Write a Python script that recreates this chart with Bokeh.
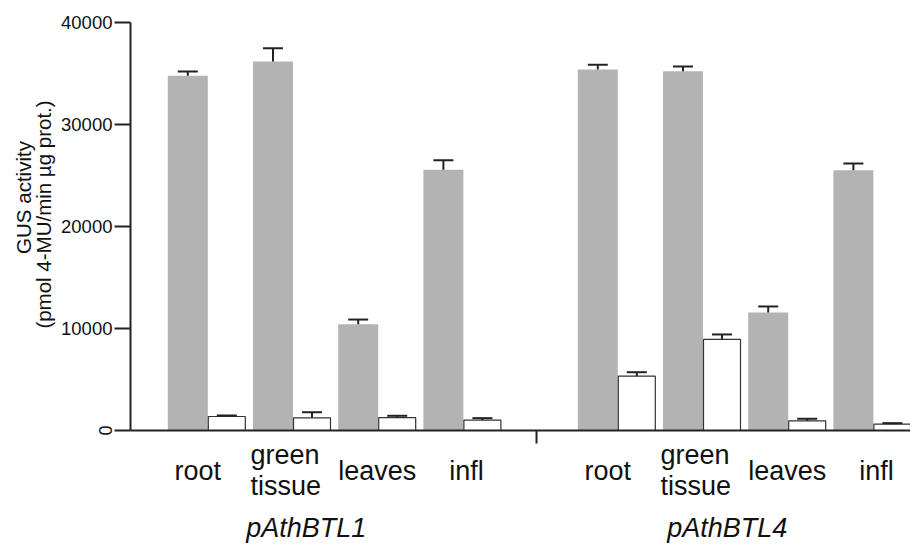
import math
from bokeh.plotting import figure
from bokeh.models import Range1d, FixedTicker, Label
from bokeh.embed import file_html
from bokeh.resources import INLINE

# ---- data ----
tissues = ["root", "green tissue", "leaves", "infl"]
promoters = ["pAthBTL1", "pAthBTL4"]
y_ticks = [0, 10000, 20000, 30000, 40000]

gray_btl1 = [34750, 36150, 10410, 25540]
gray_btl1_err = [420, 1300, 460, 940]
white_btl1 = [1370, 1240, 1270, 1010]
white_btl1_err = [100, 550, 170, 200]

gray_btl4 = [35370, 35200, 11560, 25500]
gray_btl4_err = [460, 460, 590, 650]
white_btl4 = [5320, 8920, 950, 620]
white_btl4_err = [390, 490, 200, 100]

y_title_1 = "GUS activity"
y_title_2 = "(pmol 4-MU/min \u00b5g prot.)"

# ---- layout constants ----
FONT = "Liberation Sans"
TXT = "#111111"
GRAY = "#b3b3b3"
W, H = 910, 547
AXIS_PX_X = 130          # page x of the y axis
AXIS_PX_Y0 = 430         # page y of value 0
AXIS_PX_Y40 = 21.7       # page y of value 40000
UPP = 40000 / (AXIS_PX_Y0 - AXIS_PX_Y40)   # value units per pixel

first_pair = 77.3
pair_step = 85.2
group_step = 410.0
gray_w = 40.0
white_w = 38.0
cap_half = 10.0
separator_x = 405.5
label_dx = [-10, -6.5, -1, 3]
group_label_dx = [98.5, 109.4]
SHIFT = 8.5  # text placement correction

def y_at(page_y):
    return (AXIS_PX_Y0 - page_y) * UPP

p = figure(width=W, height=H,
           x_range=Range1d(-AXIS_PX_X, W - AXIS_PX_X),
           y_range=Range1d(y_at(H), y_at(0)),
           output_backend="svg", toolbar_location=None, min_border=0)
p.outline_line_color = None
p.xgrid.visible = False
p.ygrid.visible = False
p.background_fill_color = "white"
p.border_fill_color = "white"

gray_all = [gray_btl1, gray_btl4]
gray_err_all = [gray_btl1_err, gray_btl4_err]
white_all = [white_btl1, white_btl4]
white_err_all = [white_btl1_err, white_btl4_err]

gx, gt = [], []
wx, wt = [], []
ex, e0, e1 = [], [], []
centers = []
for g in range(len(promoters)):
    for i in range(len(tissues)):
        c = first_pair + g * group_step + i * pair_step
        centers.append((g, i, c))
        xg = c - gray_w / 2
        xw = c + white_w / 2
        gv, ge = gray_all[g][i], gray_err_all[g][i]
        wv, we = white_all[g][i], white_err_all[g][i]
        gx.append(xg); gt.append(gv)
        wx.append(xw); wt.append(wv)
        ex += [xg, xw]; e0 += [gv, wv]; e1 += [gv + ge, wv + we]

p.vbar(x=gx, top=gt, bottom=0, width=gray_w, fill_color=GRAY, line_color=None)
p.vbar(x=wx, top=wt, bottom=0, width=white_w - 1, fill_color="white",
       line_color="#333333", line_width=1.2)

# error bars
p.segment(x0=ex, y0=e0, x1=ex, y1=e1, line_color="#222222", line_width=2)
p.segment(x0=[x - cap_half for x in ex], y0=e1, x1=[x + cap_half for x in ex], y1=e1,
          line_color="#222222", line_width=2)

# y axis, fixed at x = 0
ya = p.yaxis[0]
ya.fixed_location = 0
ya.bounds = (0, 40000)
ya.ticker = FixedTicker(ticks=y_ticks)
ya.minor_tick_line_color = None
ya.major_tick_out = 16
ya.major_tick_in = 0
ya.axis_line_color = "#222222"
ya.axis_line_width = 2
ya.major_tick_line_color = "#222222"
ya.major_tick_line_width = 2
ya.major_label_text_font = FONT
ya.major_label_text_font_size = "18.5px"
ya.major_label_text_color = TXT
ya.major_label_standoff = 2
ya.major_label_overrides = {0: ""}

# rotated "0" label as in the original
p.add_layout(Label(x=0, y=0, x_offset=-25.5, text="0", angle=math.pi / 2,
                   text_align="center", text_baseline="middle",
                   text_font=FONT, text_font_size="18px", text_color=TXT))

# x axis fixed at y = 0, only the separator tick
xa = p.xaxis[0]
xa.fixed_location = 0
xa.bounds = (0, W - AXIS_PX_X)
xa.ticker = FixedTicker(ticks=[separator_x])
xa.minor_tick_line_color = None
xa.major_tick_out = 13
xa.major_tick_in = 0
xa.axis_line_color = "#222222"
xa.axis_line_width = 2
xa.major_tick_line_color = "#222222"
xa.major_tick_line_width = 2
xa.major_label_overrides = {separator_x: ""}

# y title (two rotated lines)
p.add_layout(Label(x=0, y=y_at(197), x_offset=-107.5, text=y_title_1, angle=math.pi / 2,
                   text_align="center", text_baseline="middle",
                   text_font=FONT, text_font_size="20.5px", text_color=TXT))
p.add_layout(Label(x=0, y=y_at(214), x_offset=-87, text=y_title_2, angle=math.pi / 2,
                   text_align="center", text_baseline="middle",
                   text_font=FONT, text_font_size="20.5px", text_color=TXT))

# category labels
for g, i, c in centers:
    words = tissues[i].split(" ")
    if len(words) == 1:
        p.add_layout(Label(x=c, y=0, x_offset=label_dx[i], y_offset=-49.3 + SHIFT,
                           text=words[0], text_align="center", text_baseline="alphabetic",
                           text_font=FONT, text_font_size="27px", text_color=TXT))
    else:
        for k, w in enumerate(words):
            p.add_layout(Label(x=c, y=0, x_offset=label_dx[i] - 36,
                               y_offset=-33.3 - 30.7 * k + SHIFT,
                               text=w, text_align="left", text_baseline="alphabetic",
                               text_font=FONT, text_font_size="27px", text_color=TXT))

# promoter labels
for g, name in enumerate(promoters):
    c0 = first_pair + g * group_step
    p.add_layout(Label(x=c0 + group_label_dx[g], y=0, y_offset=-106 + SHIFT, text=name,
                       text_align="center", text_baseline="alphabetic",
                       text_font=FONT, text_font_style="italic", text_font_size="27px",
                       text_color=TXT))

open("out.html", "w").write(file_html(p, INLINE))
